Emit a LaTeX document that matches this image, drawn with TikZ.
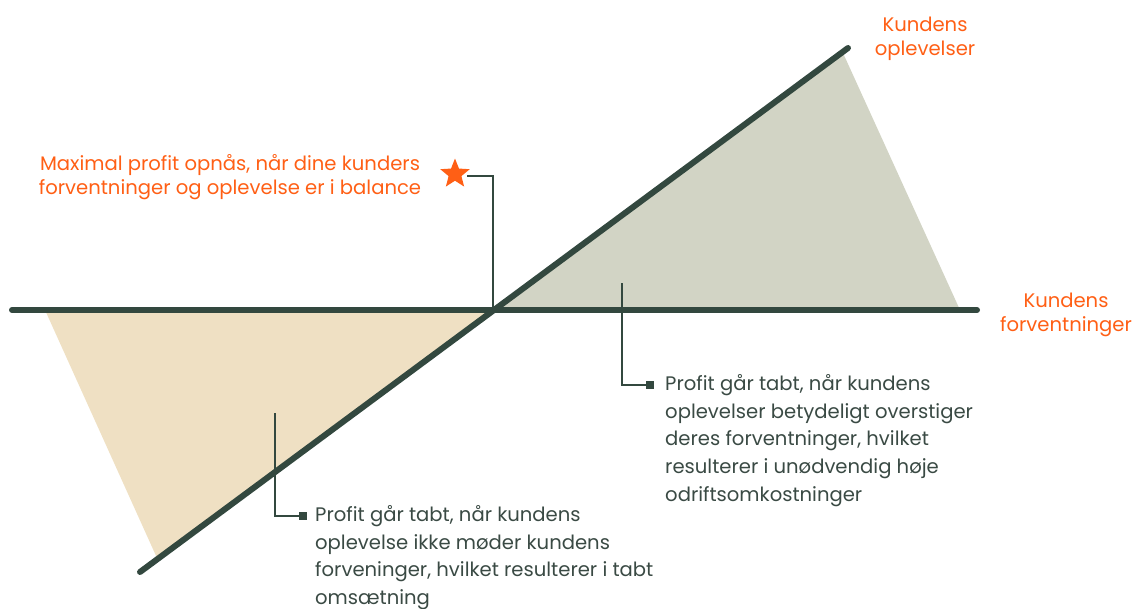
\documentclass[tikz,border=0pt]{standalone}
\usepackage{fontspec}
\setmainfont{Poppins}
\usetikzlibrary{shapes.geometric}

\definecolor{axisgreen}{HTML}{33483F}
\definecolor{tanfill}{HTML}{EFE0C3}
\definecolor{sagefill}{HTML}{D2D4C5}
\definecolor{accent}{HTML}{FF5F15}
\definecolor{bodytext}{HTML}{3A4A44}

\begin{document}
\begin{tikzpicture}[x=1pt,y=-1pt,
        axis/.style={draw=axisgreen,line width=6pt,line cap=round},
        leader/.style={draw=axisgreen,line width=2.5pt},
        bullet/.style={fill=axisgreen,minimum size=8pt,inner sep=0pt},
        note/.style={text=bodytext,font=\fontsize{19.6}{27.8}\selectfont,align=left,anchor=north west,inner sep=0pt},
        title/.style={text=accent,font=\fontsize{19.6}{23.5}\selectfont,align=center,inner sep=0pt}]
        \useasboundingbox (0,0) rectangle (1134,608);
        % shaded regions
        \fill[tanfill] (45,310) -- (493,310) -- (157,558) -- cycle;
        \fill[sagefill] (493,310) -- (843,53) -- (960,310) -- cycle;
        % axes
        \coordinate (O) at (493,310);
        \draw[axis] (12,310) -- (977,310);
        \draw[axis] (140,572) -- (848,48);
        % axis labels
        \node[title] (oplev) at (925,39) {Kundens\\oplevelser};
        \node[title] (forv) at (1066,315) {Kundens\\forventninger};
        % balance point
        \coordinate (knee) at (493,176);
        \draw[leader] (467,176) -- (knee) -- (O);
        \node[star,star points=5,star point ratio=2.3,fill=accent,minimum size=31pt,inner sep=0pt] (star) at (455,174) {};
        \node[title] (balance) at (230,177) {Maximal profit opnås, når dine kunders\\forventninger og oplevelse er i balance};
        % right note
        \coordinate (tickR) at (622,283);
        \node[bullet] (sqR) at (650,385) {};
        \draw[leader] (tickR) |- (sqR);
        \node[note] (noteR) at (665,374) {Profit går tabt, når kundens\\oplevelser betydeligt overstiger\\deres forventninger, hvilket\\resulterer i unødvendig høje\\odriftsomkostninger};
        % left note
        \coordinate (tickL) at (275,413);
        \node[bullet] (sqL) at (303,516) {};
        \draw[leader] (tickL) |- (sqL);
        \node[note] (noteL) at (315,505) {Profit går tabt, når kundens\\oplevelse ikke møder kundens\\forveninger, hvilket resulterer i tabt\\omsætning};
    \end{tikzpicture}
\end{document}
